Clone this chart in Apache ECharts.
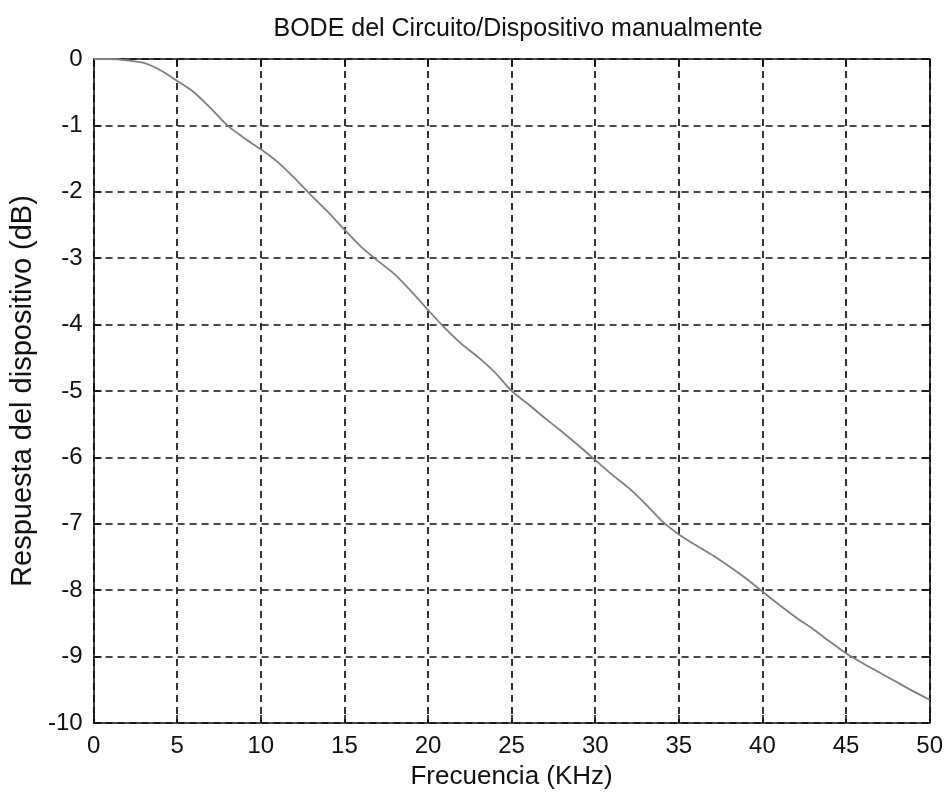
<!DOCTYPE html>
<html>
<head>
<meta charset="utf-8">
<script src="https://cdn.jsdelivr.net/npm/echarts@6/dist/echarts.min.js"></script>
<style>
  html, body { margin: 0; padding: 0; background: #fff; }
  #chart { width: 946px; height: 795px; }
</style>
</head>
<body>
<div id="chart"></div>
<script>
// Frequency samples (kHz) and measured device response (dB)
var frequencyKHz = [0, 1, 2, 3, 4, 5, 6, 7, 8, 9, 10, 11, 12, 13, 14, 15, 16, 17, 18, 19, 20,
  21, 22, 23, 24, 25, 26, 27, 28, 29, 30, 31, 32, 33, 34, 35, 36, 37, 38, 39, 40,
  41, 42, 43, 44, 45, 46, 47, 48, 49, 50];
var responseDB = [0, 0, -0.02, -0.06, -0.17, -0.33, -0.50, -0.74, -1.00, -1.19, -1.36,
  -1.55, -1.79, -2.05, -2.30, -2.57, -2.83, -3.04, -3.24, -3.50, -3.78,
  -4.05, -4.29, -4.49, -4.72, -5.00, -5.20, -5.41, -5.61, -5.82, -6.04,
  -6.26, -6.46, -6.70, -6.96, -7.16, -7.32, -7.47, -7.64, -7.82, -8.02,
  -8.22, -8.41, -8.58, -8.77, -8.95, -9.10, -9.24, -9.38, -9.52, -9.65];

// Axis ranges and tick spacing
var xRange = [0, 50], xStep = 5;
var yRange = [-10, 0], yStep = 1;

var titleText = 'BODE del Circuito/Dispositivo manualmente';
var xName = 'Frecuencia (KHz)';
var yName = 'Respuesta del dispositivo (dB)';

var font = 'Liberation Sans, Arial, sans-serif';
var ink = '#111';

var points = frequencyKHz.map(function (f, i) { return [f, responseDB[i]]; });

var dashedGrid = { show: true, lineStyle: { color: ink, width: 1.7, type: [7, 5] } };
var frameLine = { show: true, onZero: false, lineStyle: { color: ink, width: 1.6 } };
var innerTick = { show: true, inside: true, length: 8, lineStyle: { color: ink, width: 1.6 } };

var chart = echarts.init(document.getElementById('chart'), null, { renderer: 'canvas' });
chart.setOption({
  backgroundColor: '#fff',
  animation: false,
  title: {
    text: titleText,
    left: 513,
    top: 12,
    textAlign: 'center',
    textStyle: { fontFamily: font, fontSize: 25, fontWeight: 'normal', color: ink }
  },
  grid: { left: 91, right: 16, top: 59, bottom: 70 },
  xAxis: [{
    type: 'value', min: xRange[0], max: xRange[1], interval: xStep,
    position: 'bottom',
    name: xName, nameLocation: 'middle', nameGap: 41,
    nameTextStyle: { fontFamily: font, fontSize: 26, color: ink },
    axisLine: frameLine, axisTick: innerTick, splitLine: dashedGrid,
    axisLabel: { fontFamily: font, fontSize: 24, color: ink, margin: 11 }
  }, {
    type: 'value', min: xRange[0], max: xRange[1], interval: xStep,
    position: 'top',
    axisLine: frameLine, axisTick: innerTick,
    axisLabel: { show: false }, splitLine: { show: false }
  }],
  yAxis: [{
    type: 'value', min: yRange[0], max: yRange[1], interval: yStep,
    position: 'left',
    name: yName, nameLocation: 'middle', nameGap: 50, nameRotate: 90,
    nameTextStyle: { fontFamily: font, fontSize: 29, color: ink },
    axisLine: frameLine, axisTick: innerTick, splitLine: dashedGrid,
    axisLabel: { fontFamily: font, fontSize: 24, color: ink, margin: 11 }
  }, {
    type: 'value', min: yRange[0], max: yRange[1], interval: yStep,
    position: 'right',
    axisLine: frameLine, axisTick: innerTick,
    axisLabel: { show: false }, splitLine: { show: false }
  }],
  series: [{
    type: 'line',
    data: points,
    xAxisIndex: 0, yAxisIndex: 0,
    showSymbol: false,
    smooth: 0.2,
    lineStyle: { color: '#808080', width: 1.8 },
    z: 5
  }]
});
</script>
</body>
</html>
